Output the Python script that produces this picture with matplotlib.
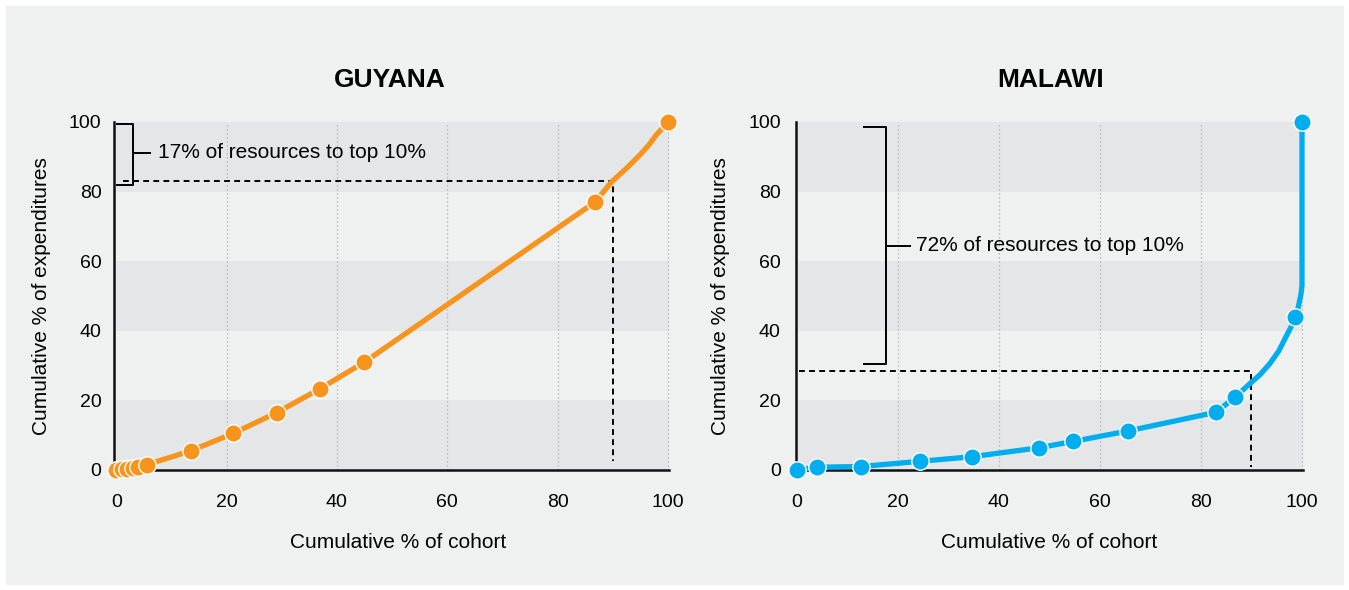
import matplotlib.pyplot as plt
from matplotlib.patches import Rectangle

plt.rcParams['font.family'] = ['Liberation Sans', 'DejaVu Sans']

# Guyana - marker points
guy_x = [0, 1, 2, 3, 4, 5.5, 13.5, 21.2, 29.1, 37, 45, 86.8, 100]
guy_y = [0, 0.2, 0.4, 0.7, 1.0, 1.5, 5.5, 10.5, 16.5, 23.4, 31, 77, 100]
guy_curve_x = [89.8, 92.5, 94.9, 96.6, 97.9, 99.0]
guy_curve_y = [82.8, 86.7, 90.5, 93.5, 96.3, 98.2]

# Malawi - marker points
mal_x = [0, 4, 12.7, 24.4, 34.6, 48, 54.7, 65.5, 83, 86.8, 98.7, 100]
mal_y = [0, 0.8, 1.0, 2.5, 3.8, 6.4, 8.2, 11.2, 16.6, 21.0, 43.9, 100]
mal_curve_x = [89.6, 91.7, 93.6, 95.4, 96.9, 98.0, 99.3, 99.8, 100]
mal_curve_y = [24.7, 27.4, 30.5, 34.2, 38.5, 41.6, 47.0, 50.5, 53.0]

yticks = [0, 20, 40, 60, 80, 100]
xticks = [0, 20, 40, 60, 80, 100]

BG = '#eff0f0'
BAND = '#e5e6e8'
ORANGE = '#f7941d'
BLUE = '#00aeef'

W, H = 1349, 590
fig = plt.figure(figsize=(W / 100, H / 100), dpi=100)
fig.patch.set_facecolor('white')
fig.patches.append(Rectangle((6 / W, 6 / H), 1 - 12 / W, 1 - 12 / H,
                             transform=fig.transFigure, color=BG, zorder=-5))


def px_axes(x0, x1, y_top, y_bot):
    return fig.add_axes([x0 / W, 1 - y_bot / H, (x1 - x0) / W, (y_bot - y_top) / H])


def merge_line(xs, ys, cx, cy):
    pts = sorted(list(zip(xs, ys)) + list(zip(cx, cy)))
    return [p[0] for p in pts], [p[1] for p in pts]


def style_axes(ax, xlim, ypad):
    ax.set_facecolor(BG)
    ax.set_xlim(*xlim)
    ax.set_ylim(0, 100)
    for lo in (0, 40, 80):
        ax.axhspan(lo, lo + 20, color=BAND, lw=0, zorder=0)
    for gx in xticks[1:]:
        ax.axvline(gx, color='#a9abae', lw=0.9, ls=(0, (1, 2.2)), zorder=1)
    for s in ('top', 'right'):
        ax.spines[s].set_visible(False)
    for s in ('left', 'bottom'):
        ax.spines[s].set_linewidth(1.8)
        ax.spines[s].set_color('#111111')
        ax.spines[s].set_zorder(2)
    ax.spines['left'].set_bounds(0, 100)
    ax.set_xticks(xticks)
    ax.set_yticks(yticks)
    ax.tick_params(axis='x', length=0, pad=17, labelsize=14)
    ax.tick_params(axis='y', length=0, pad=ypad, labelsize=14)


# ---- GUYANA ----
ax1 = px_axes(114, 669, 122, 470)
style_axes(ax1, (-0.4, 100.2), 9)
lx, ly = merge_line(guy_x, guy_y, guy_curve_x, guy_curve_y)
ax1.plot(lx, ly, color=ORANGE, lw=3.8, zorder=3, clip_on=False,
         solid_capstyle='round', solid_joinstyle='round')
ax1.plot(guy_x, guy_y, 'o', color=ORANGE, ms=12.5, mec='white', mew=1, zorder=4, clip_on=False)
ax1.plot([1.3, 90, 90], [83, 83, 2.5], color='black', lw=1.4, ls=(0, (3, 2.2)), zorder=2)
ax1.plot([0.2, 3.1, 3.1, 0.2], [99.4, 99.4, 81.9, 81.9], color='black', lw=1.4, zorder=5, clip_on=False)
ax1.plot([3.1, 6.2], [91.2, 91.2], color='black', lw=1.4, zorder=5)
ax1.text(7.6, 91.2, '17% of resources to top 10%', fontsize=15, va='center', ha='left', zorder=5)

# ---- MALAWI ----
ax2 = px_axes(796, 1303, 122, 470)
style_axes(ax2, (-0.15, 100.2), 11)
lx, ly = merge_line(mal_x, mal_y, mal_curve_x, mal_curve_y)
ax2.plot(lx, ly, color=BLUE, lw=3.8, zorder=3, clip_on=False,
         solid_capstyle='round', solid_joinstyle='round')
ax2.plot(mal_x, mal_y, 'o', color=BLUE, ms=12.5, mec='white', mew=1, zorder=4, clip_on=False)
ax2.plot([0.4, 90, 90], [28.4, 28.4, 0.8], color='black', lw=1.4, ls=(0, (3, 2.2)), zorder=2)
ax2.plot([13.3, 17.6, 17.6, 13.3], [98.6, 98.6, 30.5, 30.5], color='black', lw=1.4, zorder=5)
ax2.plot([17.6, 22.4], [64.5, 64.5], color='black', lw=1.4, zorder=5)
ax2.text(23.6, 64.5, '72% of resources to top 10%', fontsize=15, va='center', ha='left', zorder=5)

# titles and axis labels
fig.text(390 / W, 1 - 80 / H, 'GUYANA', fontsize=19, fontweight='bold', ha='center', va='center')
fig.text(1051 / W, 1 - 80 / H, 'MALAWI', fontsize=19, fontweight='bold', ha='center', va='center')
fig.text(398 / W, 1 - 543 / H, 'Cumulative % of cohort', fontsize=15, ha='center', va='center')
fig.text(1049 / W, 1 - 543 / H, 'Cumulative % of cohort', fontsize=15, ha='center', va='center')
fig.text(42 / W, 1 - 296 / H, 'Cumulative % of expenditures', fontsize=15, ha='center', va='center', rotation=90)
fig.text(721 / W, 1 - 296 / H, 'Cumulative % of expenditures', fontsize=15, ha='center', va='center', rotation=90)

fig.savefig('out.png', dpi=100, facecolor=fig.get_facecolor())
